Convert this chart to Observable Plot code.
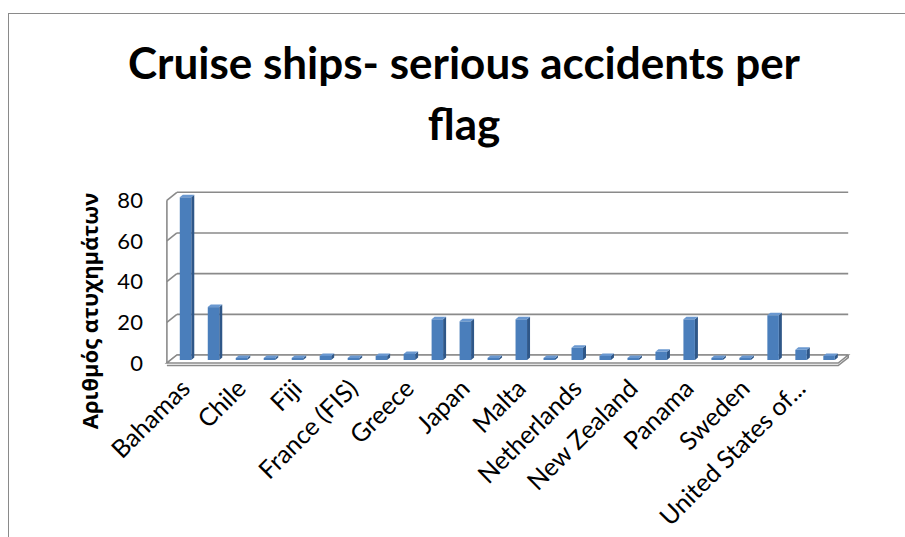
<!DOCTYPE html>
<html>
<head>
<meta charset="utf-8">
<script src="https://cdn.jsdelivr.net/npm/d3@7"></script>
<script src="https://cdn.jsdelivr.net/npm/@observablehq/plot@0.6"></script>
<style>
  html, body { margin: 0; padding: 0; background: #fff; }
  body { position: relative; width: 905px; height: 537px; overflow: hidden;
         font-family: Lato, "Open Sans", "Noto Sans", sans-serif; color: #000; }
  #frame { position: absolute; left: 8px; top: 13px; width: 1000px; height: 700px;
           border: 1.5px solid #8a8a8a; box-sizing: border-box; }
  #title { position: absolute; left: 0; top: 32px; width: 928px; text-align: center;
           font-weight: bold; font-size: 44px; line-height: 61px; }
  #ylabel { position: absolute; left: 89px; top: 311px; white-space: nowrap;
            font-family: "Open Sans", "Noto Sans", sans-serif; font-weight: bold; font-size: 22px;
            transform: translate(-50%, -50%) rotate(-90deg); }
  #chart { position: absolute; left: 0; top: 170px; }
</style>
</head>
<body>
<div id="frame"></div>
<div id="title">Cruise ships- serious accidents per<br>flag</div>
<div id="chart"></div>
<div id="ylabel"></div>
<script>
// Serious accidents of cruise ships, by flag state
const flags = [
  "Bahamas", "Bermuda", "Chile", "Cyprus", "Fiji", "Finland", "France (FIS)", "Germany",
  "Greece", "Italy", "Japan", "Luxembourg", "Malta", "Marshall Islands", "Netherlands",
  "Netherlands Antilles", "New Zealand", "Norway", "Panama", "Portugal", "Sweden",
  "United Kingdom", "United States of America", "Vanuatu"
];
const accidents = [80, 26, 1, 1, 1, 2, 1, 2, 3, 20, 19, 1, 20, 1, 6, 2, 1, 4, 20, 1, 1, 22, 5, 2];

// only every other flag gets a label on the category axis
const labelledFlags = flags.filter((d, i) => i % 2 === 0);
const tickLabels = [
  "Bahamas", "Chile", "Fiji", "France (FIS)", "Greece", "Japan", "Malta",
  "Netherlands", "New Zealand", "Panama", "Sweden", "United States of..."
];
const yTicks = [0, 20, 40, 60, 80];
const yLabel = "Αριθμός ατυχημάτων";

const rows = flags.map((flag, i) => ({flag, n: accidents[i]}));

const gridColor = "#8a8a8a";
const front = 3, back = -5;       // floor depth offsets (y) from the bar plane
const frontX = -4.5, backX = 5.5; // floor depth offsets (x) at the left edge

// back wall, left wall and floor of the 3-D box
function box(index, scales, values, dim) {
  const y = scales.y;
  const l = dim.marginLeft, r = dim.width - dim.marginRight;
  const g = d3.create("svg:g")
    .attr("fill", "none")
    .attr("stroke", gridColor)
    .attr("stroke-width", 1.6);
  const top = yTicks[yTicks.length - 1];
  for (const t of yTicks) {
    g.append("line")
      .attr("x1", l + backX).attr("x2", r + 5)
      .attr("y1", y(t) + back).attr("y2", y(t) + back);
    g.append("line")
      .attr("x1", l + frontX).attr("x2", l + backX)
      .attr("y1", y(t) + front).attr("y2", y(t) + back);
  }
  g.append("line")
    .attr("x1", l + frontX).attr("x2", l + frontX)
    .attr("y1", y(0) + front).attr("y2", y(top) + front);
  // floor slab
  const y0 = y(0);
  g.append("path")
    .attr("fill", "#fff")
    .attr("d", `M${l + frontX},${y0 + front}L${r - 5},${y0 + front}L${r + 5},${y0 + back}L${l + backX},${y0 + back}Z`);
  g.append("path")
    .attr("d", `M${l + frontX},${y0 + front + 2.5}L${r - 5},${y0 + front + 2.5}L${r + 5},${y0 + back + 2.5}L${r + 5},${y0 + back}`);
  return g.node();
}

// give each column a lit top and a shaded side
function columns(index, scales, values, dim, context, next) {
  const g = next(index, scales, values, dim, context);
  const dx = 3, dy = -2.5;
  d3.select(g).selectAll("rect").each(function () {
    const x = +this.getAttribute("x"), yy = +this.getAttribute("y");
    const w = +this.getAttribute("width"), h = +this.getAttribute("height");
    const parent = this.parentNode;
    const side = document.createElementNS("http://www.w3.org/2000/svg", "path");
    side.setAttribute("d", `M${x + w},${yy}L${x + w + dx},${yy + dy}L${x + w + dx},${yy + h + dy}L${x + w},${yy + h}Z`);
    side.setAttribute("fill", "#2f5788");
    const cap = document.createElementNS("http://www.w3.org/2000/svg", "path");
    cap.setAttribute("d", `M${x},${yy}L${x + dx},${yy + dy}L${x + w + dx},${yy + dy}L${x + w},${yy}Z`);
    cap.setAttribute("fill", "#6a98d0");
    parent.insertBefore(side, this);
    parent.insertBefore(cap, this);
  });
  return g;
}

const chart = Plot.plot({
  width: 905,
  height: 367,
  marginTop: 27.3,
  marginBottom: 177,
  marginLeft: 171.4,
  marginRight: 61.8,
  style: {fontFamily: 'Lato, "Open Sans", "Noto Sans", sans-serif', fontSize: "22px", color: "#000", background: "transparent", overflow: "visible"},
  x: {domain: flags, range: [163.3, 851.3], padding: 0.589, round: false},
  y: {domain: [0, 80]},
  marks: [
    box,
    Plot.barY(rows, {x: "flag", y: "n", fill: "#4a7ebb", render: columns}),
    Plot.axisY({ticks: yTicks, tickSize: 0, tickPadding: 29, dy: 3, fontSize: 22, label: null}),
    Plot.axisX({ticks: labelledFlags, tickFormat: (d, i) => tickLabels[i], tickRotate: -45,
                tickSize: 0, tickPadding: 24, dx: 0, fontSize: 25, label: null})
  ]
});
document.getElementById("chart").append(chart);
document.getElementById("ylabel").textContent = yLabel;
</script>
</body>
</html>
